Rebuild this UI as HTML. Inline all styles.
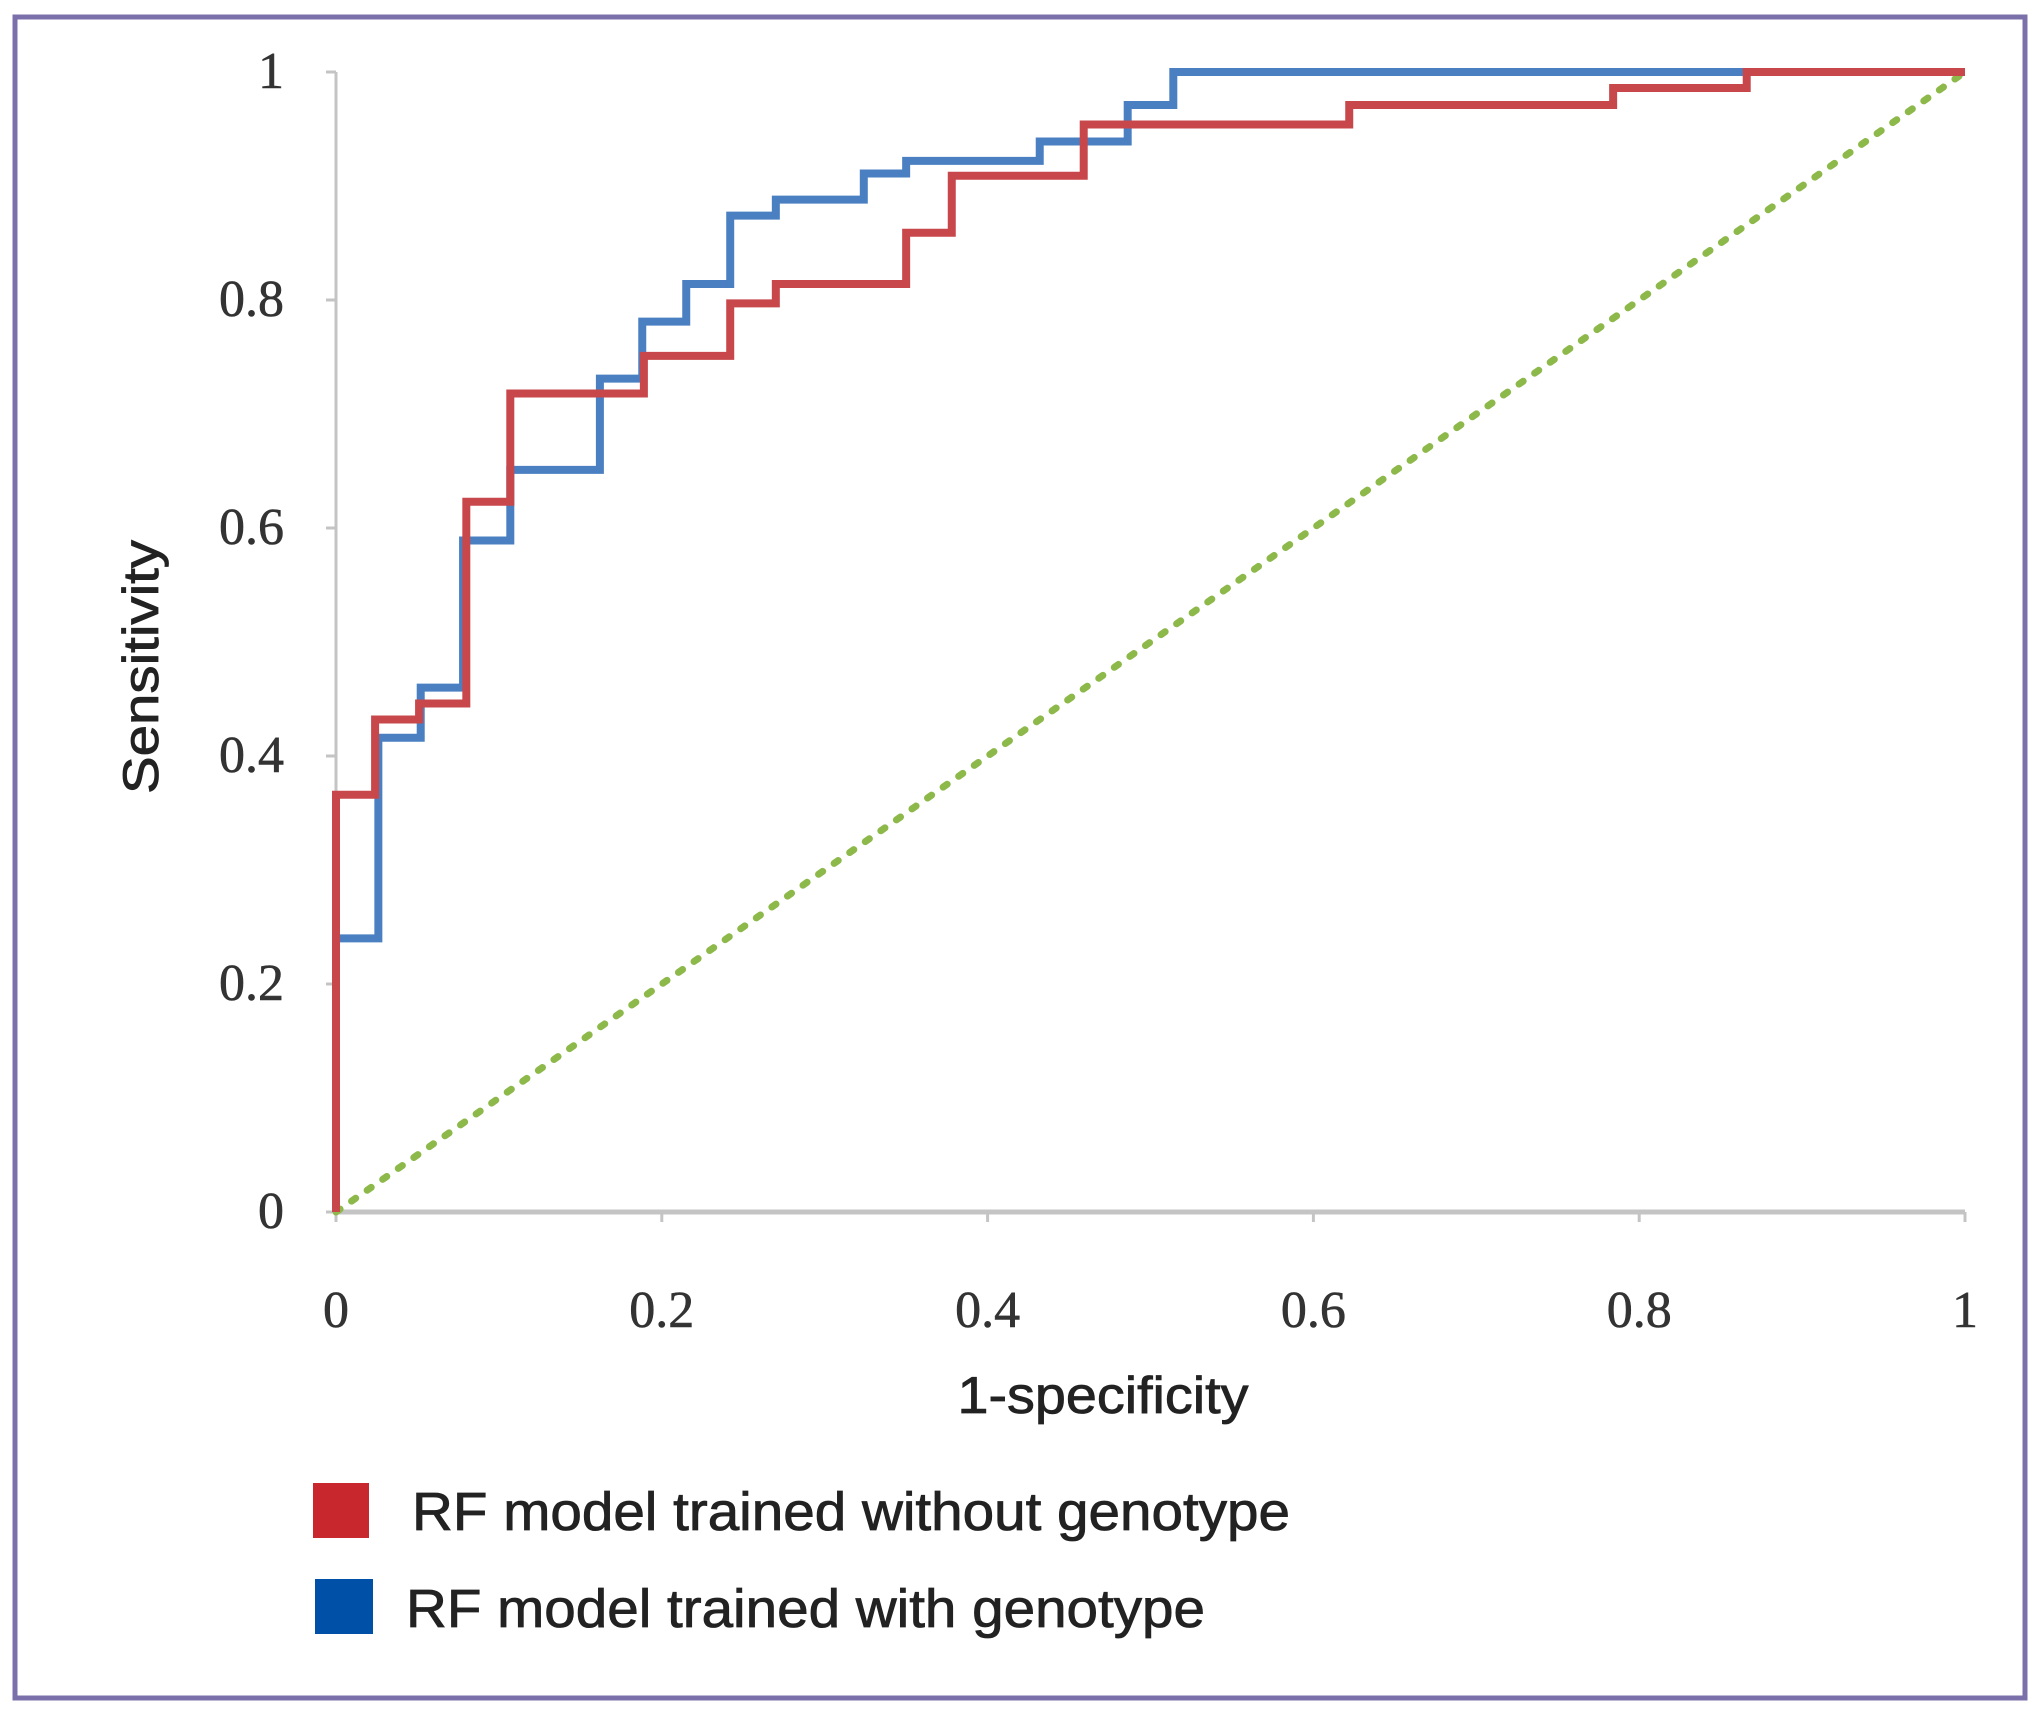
<!DOCTYPE html>
<html><head><meta charset="utf-8"><style>
html,body{margin:0;padding:0;background:#fff;}
svg{display:block;}
</style></head><body>
<svg width="2043" height="1719" viewBox="0 0 2043 1719" xmlns="http://www.w3.org/2000/svg">
<rect x="15" y="17" width="2010" height="1681" fill="#fff" stroke="#7b70aa" stroke-width="5"/>
<g id="axes"></g>
<g id="series"></g>
<text x="1103" y="1413" font-family="Liberation Sans, sans-serif" font-size="52" text-anchor="middle" textLength="291" lengthAdjust="spacingAndGlyphs" fill="#222" stroke="#222" stroke-width="0.8">1-specificity</text>
<text transform="translate(158,667) rotate(-90)" font-family="Liberation Sans, sans-serif" font-size="50" text-anchor="middle" textLength="254" lengthAdjust="spacingAndGlyphs" fill="#222" stroke="#222" stroke-width="0.8">Sensitivity</text>
<g>
<g>
<rect x="313" y="1483" width="56" height="55" fill="#c8282d"/>
<text x="412" y="1530" font-family="Liberation Sans, sans-serif" font-size="54" textLength="878" lengthAdjust="spacingAndGlyphs" fill="#222" stroke="#222" stroke-width="0.8">RF model trained without genotype</text>
</g>
<g>
<rect x="315" y="1579" width="58" height="55" fill="#0050a8"/>
<text x="406" y="1627" font-family="Liberation Sans, sans-serif" font-size="54" textLength="799" lengthAdjust="spacingAndGlyphs" fill="#222" stroke="#222" stroke-width="0.8">RF model trained with genotype</text>
</g>
</g>
</svg>
<script>
const xTicks = [0, 0.2, 0.4, 0.6, 0.8, 1];
const xTickLabels = ["0", "0.2", "0.4", "0.6", "0.8", "1"];
const yTicks = [0, 0.2, 0.4, 0.6, 0.8, 1];
const yTickLabels = ["0", "0.2", "0.4", "0.6", "0.8", "1"];
const redX = [0, 0.024, 0.051, 0.08, 0.107, 0.189, 0.242, 0.27, 0.35, 0.378, 0.459, 0.622, 0.784, 0.866, 1];
const redY = [0.366, 0.432, 0.446, 0.623, 0.718, 0.751, 0.797, 0.814, 0.859, 0.909, 0.954, 0.971, 0.986, 1, 1];
const blueX = [0, 0.026, 0.052, 0.078, 0.107, 0.162, 0.188, 0.215, 0.242, 0.27, 0.324, 0.35, 0.432, 0.486, 0.514, 0.864, 1];
const blueY = [0.24, 0.416, 0.46, 0.589, 0.651, 0.731, 0.781, 0.814, 0.874, 0.888, 0.911, 0.922, 0.939, 0.971, 1, 1, 1];
const diagX = [0, 1];
const diagY = [0, 1];

const NS = "http://www.w3.org/2000/svg";
const X0 = 336, X1 = 1965, Y0 = 1212, Y1 = 72;
function sx(v){ return X0 + v * (X1 - X0); }
function sy(v){ return Y0 - v * (Y0 - Y1); }
function mk(tag, attrs, parent){
  const e = document.createElementNS(NS, tag);
  for (const k in attrs) e.setAttribute(k, attrs[k]);
  parent.appendChild(e);
  return e;
}
const axes = document.getElementById('axes');
const series = document.getElementById('series');

let a = mk('line', {x1:X0, y1:Y1, x2:X0, y2:Y0, stroke:'#c4c4c4', 'stroke-width':3}, axes);


a = mk('line', {x1:X0, y1:Y0, x2:X1, y2:Y0, stroke:'#c4c4c4', 'stroke-width':5}, axes);



yTicks.forEach((v, i) => {
  const t = mk('line', {x1:X0-10, y1:sy(v), x2:X0, y2:sy(v), stroke:'#c4c4c4', 'stroke-width':3}, axes);
  
  
  const l = mk('text', {x:284, y:sy(v)+16, 'font-family':'Liberation Serif, serif', 'font-size':52, 'text-anchor':'end', fill:'#333', stroke:'#333', 'stroke-width':0.6}, axes);
  l.textContent = yTickLabels[i];
  
  
});
xTicks.forEach((v, i) => {
  const t = mk('line', {x1:sx(v), y1:Y0, x2:sx(v), y2:Y0+10, stroke:'#c4c4c4', 'stroke-width':3}, axes);
  
  
  const l = mk('text', {x:sx(v), y:1327, 'font-family':'Liberation Serif, serif', 'font-size':52, 'text-anchor':'middle', fill:'#333', stroke:'#333', 'stroke-width':0.6}, axes);
  l.textContent = xTickLabels[i];
  
  
});

function stepPath(xs, ys){
  let d = 'M' + sx(0) + ' ' + sy(0);
  for (let i = 0; i < xs.length; i++){
    d += ' L' + sx(xs[i]) + ' ' + sy(i === 0 ? 0 : ys[i-1]);
    d += ' L' + sx(xs[i]) + ' ' + sy(ys[i]);
  }
  return d;
}
const diag = mk('line', {x1:sx(diagX[0]), y1:sy(diagY[0]), x2:sx(diagX[1]), y2:sy(diagY[1]), stroke:'#8db84a', 'stroke-width':7, 'stroke-dasharray':'5 14', 'stroke-linecap':'round'}, series);


const blue = mk('path', {d:stepPath(blueX, blueY), fill:'none', stroke:'#4a80c2', 'stroke-width':8}, series);


const red = mk('path', {d:stepPath(redX, redY), fill:'none', stroke:'#c8474a', 'stroke-width':8}, series);


</script>
</body></html>
